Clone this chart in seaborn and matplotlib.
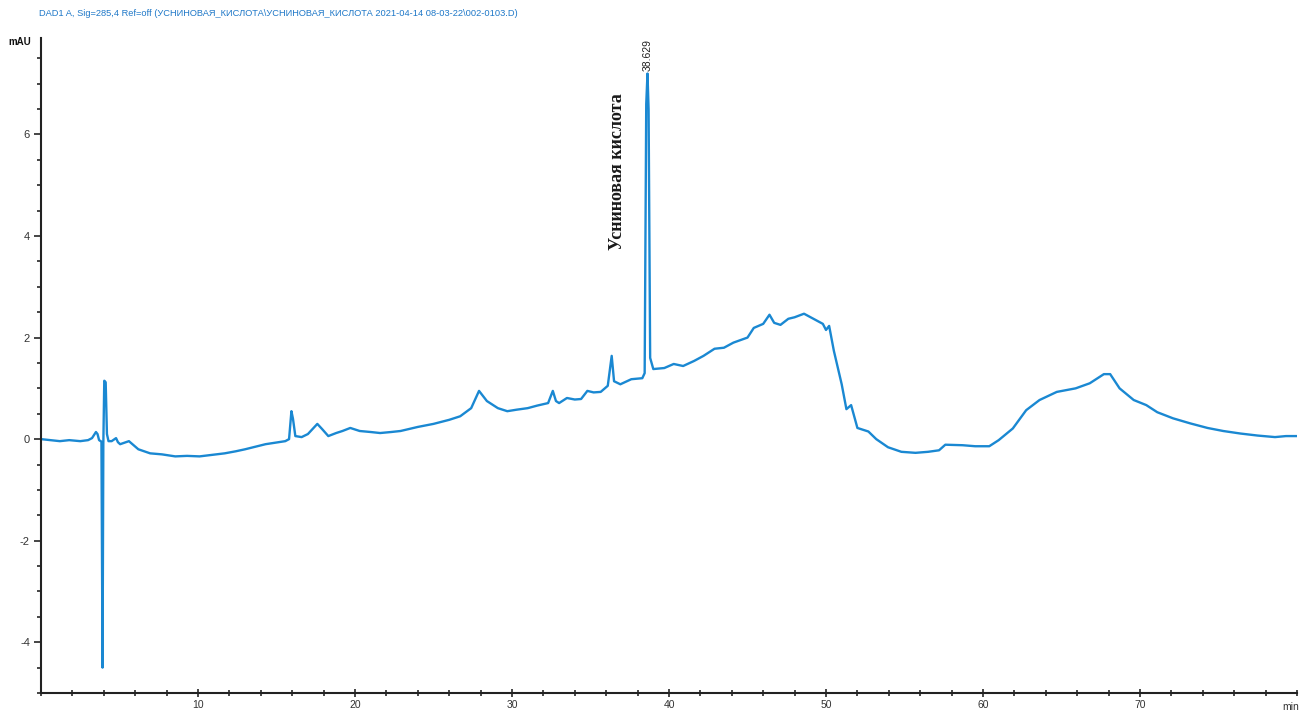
import numpy as np
import pandas as pd
import seaborn as sns
import matplotlib.pyplot as plt
from matplotlib.ticker import MultipleLocator

# Хроматограмма DAD1 A, 285 нм
time_min = [0.0, 0.6, 1.2, 1.8, 2.5, 3.0, 3.25, 3.5, 3.6, 3.7, 3.85, 3.92, 3.97, 4.03, 4.12, 4.2, 4.3, 4.5,
            4.78, 4.9, 5.04, 5.6, 6.2, 6.95, 7.7, 8.55, 9.3, 10.1, 10.9, 11.7, 12.4, 13.0, 14.3, 15.56, 15.8,
            15.95, 16.05, 16.2, 16.6, 17.0, 17.6, 17.9, 18.3, 18.8, 19.2, 19.7, 20.3, 21.0, 21.6, 22.3, 22.9,
            24.0, 25.0, 26.0, 26.7, 27.4, 27.9, 28.4, 29.1, 29.7, 30.3, 31.0, 31.6, 32.3, 32.6, 32.8, 33.0,
            33.5, 34.0, 34.4, 34.8, 35.2, 35.65, 36.1, 36.35, 36.5, 36.9, 37.6, 38.3, 38.45, 38.55, 38.63,
            38.7, 38.8, 39.0, 39.7, 40.3, 40.9, 41.6, 42.2, 42.9, 43.5, 44.1, 45.0, 45.4, 46.0, 46.4, 46.7,
            47.1, 47.6, 48.0, 48.6, 49.2, 49.8, 50.0, 50.2, 50.5, 51.0, 51.3, 51.6, 52.0, 52.7, 53.2, 53.95,
            54.8, 55.7, 56.5, 57.2, 57.6, 58.7, 59.5, 60.4, 61.0, 61.9, 62.75, 63.6, 64.7, 65.9, 66.8, 67.7,
            68.1, 68.7, 69.6, 70.4, 71.1, 72.1, 73.2, 74.3, 75.3, 76.4, 77.5, 78.6, 79.3, 80.1]
signal_mau = [0.0, -0.02, -0.04, -0.02, -0.04, -0.02, 0.02, 0.14, 0.10, -0.02, -0.05, -4.5, -0.1, 1.15, 1.12, 0.1,
              -0.04, -0.04, 0.02, -0.06, -0.1, -0.04, -0.2, -0.28, -0.3, -0.34, -0.33, -0.34, -0.31, -0.28,
              -0.24, -0.2, -0.1, -0.04, 0.0, 0.55, 0.4, 0.06, 0.04, 0.1, 0.3, 0.2, 0.06, 0.12, 0.16, 0.22, 0.16,
              0.14, 0.12, 0.14, 0.16, 0.24, 0.30, 0.38, 0.45, 0.61, 0.95, 0.75, 0.61, 0.55, 0.58, 0.61, 0.66,
              0.71, 0.95, 0.75, 0.71, 0.81, 0.78, 0.79, 0.95, 0.92, 0.93, 1.05, 1.64, 1.14, 1.08, 1.18, 1.2,
              1.3, 6.6, 7.2, 6.5, 1.6, 1.38, 1.40, 1.48, 1.44, 1.54, 1.64, 1.78, 1.80, 1.90, 2.00, 2.19, 2.27,
              2.45, 2.29, 2.25, 2.37, 2.40, 2.47, 2.37, 2.27, 2.15, 2.23, 1.74, 1.08, 0.59, 0.67, 0.22, 0.15,
              0.0, -0.16, -0.25, -0.27, -0.25, -0.22, -0.11, -0.12, -0.14, -0.14, -0.02, 0.21, 0.57, 0.77,
              0.93, 1.0, 1.1, 1.28, 1.28, 1.0, 0.77, 0.67, 0.53, 0.41, 0.31, 0.22, 0.16, 0.11, 0.07, 0.04,
              0.06, 0.06]

peak_time = 38.629
peak_label = "38.629"
compound = "Усниновая кислота"
header = "DAD1 A, Sig=285,4 Ref=off (УСНИНОВАЯ_КИСЛОТА\\УСНИНОВАЯ_КИСЛОТА 2021-04-14 08-03-22\\002-0103.D)"

df = pd.DataFrame({"t": time_min, "mAU": signal_mau})

sns.set_style("ticks")
plt.rcParams['font.family'] = ['Liberation Sans', 'DejaVu Sans']
plt.rcParams['axes.unicode_minus'] = False

fig = plt.figure(figsize=(13.01, 7.15), dpi=100)
ax = fig.add_axes([41 / 1301, 22 / 715, 1256 / 1301, 655 / 715])

sns.lineplot(data=df, x="t", y="mAU", ax=ax, color="#1a88d2", linewidth=1.7, estimator=None, sort=False)

ax.set_xlim(0, 80)
ax.set_ylim(-5, 7.9)
ax.xaxis.set_minor_locator(MultipleLocator(2))
ax.yaxis.set_minor_locator(MultipleLocator(0.5))
ax.set_xticks([10, 20, 30, 40, 50, 60, 70])
ax.set_yticks([-4, -2, 0, 2, 4, 6])
ax.tick_params(axis="x", which="both", direction="inout", length=6, width=1.2, labelsize=7.5,
               labelcolor="#333333", pad=2)
ax.tick_params(axis="x", which="minor", length=5)
ax.tick_params(axis="y", which="major", direction="out", length=5, width=1.2, labelsize=8,
               labelcolor="#333333", pad=3)
ax.tick_params(axis="y", which="minor", direction="out", length=3, width=1.2)
ax.set_xlabel("")
ax.set_ylabel("")
sns.despine(ax=ax)
for s in ["left", "bottom"]:
    ax.spines[s].set_linewidth(1.5)
    ax.spines[s].set_color("#222222")

fig.text(39 / 1301, 1 - 13 / 715, header, color="#1f78c8", fontsize=6.7, va="center", ha="left")
fig.text(8 / 1301, 1 - 42 / 715, "mAU", color="#111111", fontsize=7, fontweight="bold", va="center")
fig.text(1282 / 1301, 1 - 707 / 715, "min", color="#333333", fontsize=7.5, va="center", ha="left")

ax.text(peak_time, 7.25, peak_label, rotation=90, ha="center", va="bottom", fontsize=7.5,
        color="#222222", clip_on=False)
ax.text(36.75, 3.72, compound, rotation=90, ha="center", va="bottom", fontsize=13, fontweight="bold",
        family=["Liberation Serif", "DejaVu Serif"], color="#1a1a1a")

plt.savefig("out.png", dpi=100)
